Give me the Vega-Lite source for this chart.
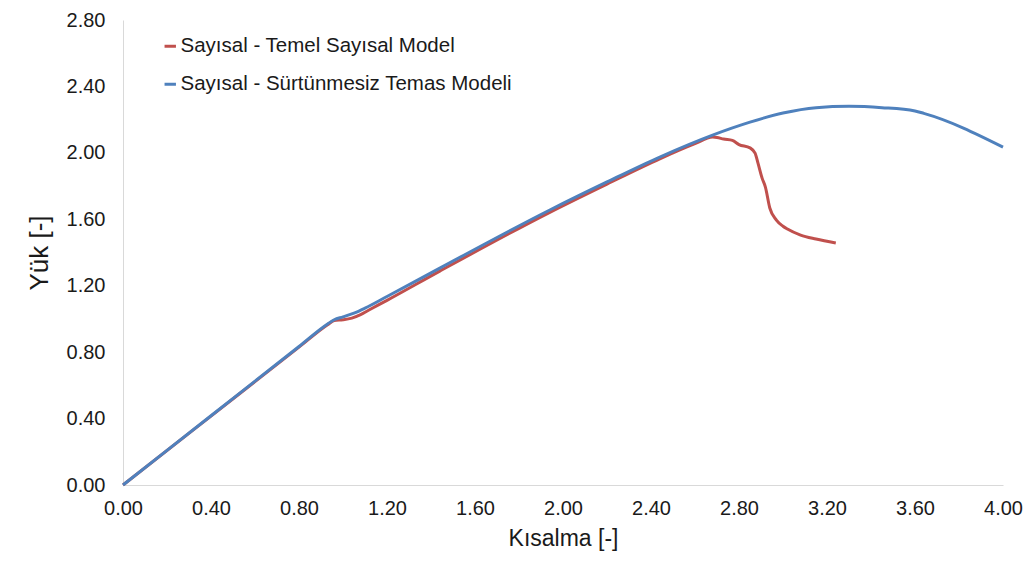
{
  "$schema": "https://vega.github.io/schema/vega-lite/v6.json",
  "width": 880,
  "height": 465,
  "autosize": {"type": "none"},
  "padding": {"left": 123, "top": 20, "right": 25, "bottom": 85},
  "background": "white",
  "config": {
    "font": "Liberation Sans",
    "view": {"stroke": null},
    "axis": {
      "grid": false,
      "ticks": false,
      "domainColor": "#D9D9D9",
      "domainWidth": 1,
      "labelFont": "Liberation Sans",
      "labelFontSize": 20,
      "labelColor": "#1a1a1a",
      "labelFlush": false,
      "titleFont": "Liberation Sans",
      "titleFontWeight": "normal",
      "titleColor": "#1a1a1a"
    }
  },
  "datasets": {
    "red": [
      {"x": 0, "y": 0},
      {"x": 0.4, "y": 0.415},
      {"x": 0.8, "y": 0.83},
      {"x": 0.93, "y": 0.965},
      {"x": 0.96, "y": 0.99},
      {"x": 1.0, "y": 0.995},
      {"x": 1.04, "y": 1.005},
      {"x": 1.08, "y": 1.026},
      {"x": 1.12, "y": 1.055},
      {"x": 1.2, "y": 1.112},
      {"x": 1.44, "y": 1.288},
      {"x": 1.94, "y": 1.642},
      {"x": 2.2, "y": 1.812},
      {"x": 2.44, "y": 1.964},
      {"x": 2.6, "y": 2.055},
      {"x": 2.68, "y": 2.095},
      {"x": 2.7, "y": 2.093},
      {"x": 2.73, "y": 2.083},
      {"x": 2.77, "y": 2.075},
      {"x": 2.80, "y": 2.05},
      {"x": 2.85, "y": 2.03},
      {"x": 2.873, "y": 1.998},
      {"x": 2.886, "y": 1.94},
      {"x": 2.905, "y": 1.848},
      {"x": 2.92, "y": 1.794},
      {"x": 2.94, "y": 1.668},
      {"x": 2.97, "y": 1.595},
      {"x": 3.0, "y": 1.558},
      {"x": 3.02, "y": 1.541},
      {"x": 3.08, "y": 1.505},
      {"x": 3.15, "y": 1.481},
      {"x": 3.24, "y": 1.457}
    ],
    "blue": [
      {"x": 0, "y": 0},
      {"x": 0.4, "y": 0.417},
      {"x": 0.8, "y": 0.834},
      {"x": 0.93, "y": 0.97},
      {"x": 0.96, "y": 0.995},
      {"x": 1.0, "y": 1.012},
      {"x": 1.05, "y": 1.035},
      {"x": 1.1, "y": 1.065},
      {"x": 1.2, "y": 1.135},
      {"x": 1.44, "y": 1.306},
      {"x": 1.94, "y": 1.656},
      {"x": 2.2, "y": 1.825},
      {"x": 2.44, "y": 1.975},
      {"x": 2.68, "y": 2.107},
      {"x": 2.85, "y": 2.185},
      {"x": 3.0, "y": 2.24},
      {"x": 3.15, "y": 2.272},
      {"x": 3.30, "y": 2.28},
      {"x": 3.45, "y": 2.272},
      {"x": 3.6, "y": 2.252},
      {"x": 3.64, "y": 2.238},
      {"x": 4.0, "y": 2.035}
    ]
  },
  "encoding": {
    "x": {
      "field": "x", "type": "quantitative",
      "scale": {"domain": [0, 4], "nice": false, "zero": false},
      "axis": {"title": "Kısalma [-]", "values": [0, 0.4, 0.8, 1.2, 1.6, 2.0, 2.4, 2.8, 3.2, 3.6, 4.0], "format": ".2f", "labelPadding": 13, "titleFontSize": 23, "titlePadding": 9}
    },
    "y": {
      "field": "y", "type": "quantitative",
      "scale": {"domain": [0, 2.8], "nice": false},
      "axis": {"title": "Yük [-]", "values": [0, 0.4, 0.8, 1.2, 1.6, 2.0, 2.4, 2.8], "format": ".2f", "labelPadding": 18, "titleFontSize": 26, "titlePadding": 14}
    },
    "color": {
      "field": "s", "type": "nominal",
      "scale": {"domain": ["Sayısal - Temel Sayısal Model", "Sayısal - Sürtünmesiz Temas Modeli"], "range": ["#C0504D", "#4F81BD"]},
      "legend": {
        "title": null,
        "orient": "none",
        "legendX": 37,
        "legendY": 16,
        "symbolType": "stroke",
        "symbolStrokeWidth": 3,
        "symbolSize": 130,
        "labelFontSize": 20.5,
        "labelFont": "Liberation Sans",
        "labelColor": "#1a1a1a",
        "labelOffset": 0,
        "rowPadding": 17,
        "labelLimit": 500
      }
    }
  },
  "layer": [
    {
      "data": {"name": "red"},
      "transform": [{"calculate": "'Sayısal - Temel Sayısal Model'", "as": "s"}],
      "mark": {"type": "line", "strokeWidth": 3, "interpolate": "monotone"}
    },
    {
      "data": {"name": "blue"},
      "transform": [{"calculate": "'Sayısal - Sürtünmesiz Temas Modeli'", "as": "s"}],
      "mark": {"type": "line", "strokeWidth": 3, "interpolate": "monotone"}
    }
  ]
}
